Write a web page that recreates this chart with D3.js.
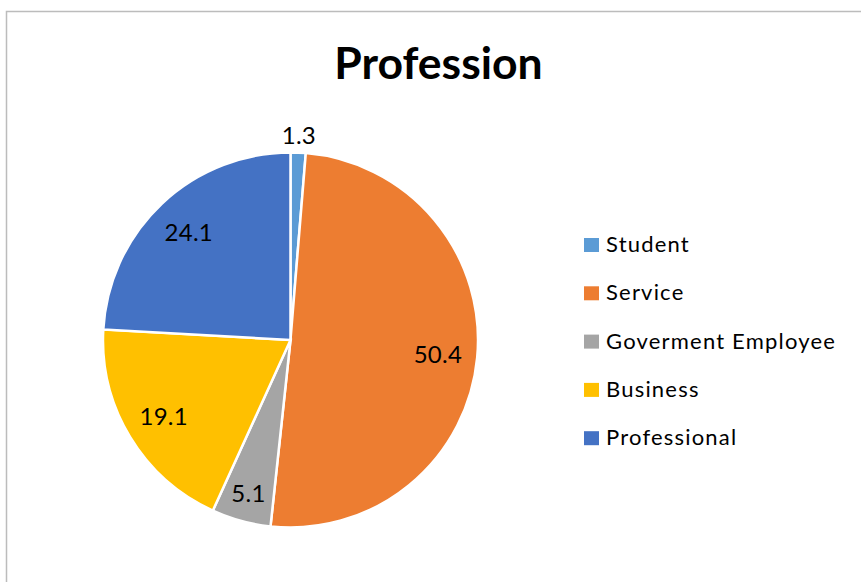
<!DOCTYPE html>
<html>
<head>
<meta charset="utf-8">
<script src="https://cdn.jsdelivr.net/npm/d3@7"></script>
<style>
  html, body { margin: 0; padding: 0; background: #fff; }
  svg { display: block; font-family: Lato, "Open Sans", sans-serif; }
</style>
</head>
<body>
<svg id="chart" width="861" height="582"></svg>
<script>
// Profession breakdown (percent of respondents)
const categories = ["Student", "Service", "Goverment Employee", "Business", "Professional"];
const values = [1.3, 50.4, 5.1, 19.1, 24.1];
const colors = ["#5B9BD5", "#ED7D31", "#A5A5A5", "#FFC000", "#4472C4"];
const title = "Profession";

const svg = d3.select("#chart");
const W = 861, H = 582;

// chart frame
svg.append("rect")
  .attr("x", 6.5).attr("y", 11.5)
  .attr("width", W + 20).attr("height", H + 20)
  .attr("fill", "#fff")
  .attr("stroke", "#bcbcbc").attr("stroke-width", 1.5);

// title
svg.append("text")
  .attr("x", 438.5).attr("y", 79)
  .attr("text-anchor", "middle")
  .attr("font-size", 44.5).attr("font-weight", 700)
  .attr("fill", "#000")
  .text(title);

// pie
const cx = 290.5, cy = 340, R = 187.5;
const data = categories.map((c, i) => ({ name: c, value: values[i], color: colors[i] }));
const pie = d3.pie().value(d => d.value).sort(null);
const arcs = pie(data);
const arc = d3.arc().innerRadius(0).outerRadius(R);

const g = svg.append("g").attr("transform", `translate(${cx},${cy})`);
g.selectAll("path.slice")
  .data(arcs)
  .join("path")
  .attr("class", "slice")
  .attr("d", arc)
  .attr("fill", d => d.data.color)
  .attr("stroke", "#fff")
  .attr("stroke-width", 2.5)
  .attr("stroke-linejoin", "miter");

// value labels: inside the slice, small slices pushed outward
function labelRadius(d) {
  const pct = d.data.value / d3.sum(values);
  if (pct < 0.02) return R * 1.09;
  if (pct < 0.08) return R * 0.85;
  return R * 0.79;
}
g.selectAll("text.val")
  .data(arcs)
  .join("text")
  .attr("class", "val")
  .attr("x", d => Math.sin((d.startAngle + d.endAngle) / 2) * labelRadius(d))
  .attr("y", d => -Math.cos((d.startAngle + d.endAngle) / 2) * labelRadius(d))
  .attr("dy", "0.36em")
  .attr("text-anchor", "middle")
  .attr("font-size", 24)
  .attr("letter-spacing", 0.3)
  .attr("fill", "#000")
  .text(d => d3.format(".1f")(d.data.value));

// legend
const legend = svg.append("g").attr("transform", "translate(584,252)");
const rowH = 48.3;
const item = legend.selectAll("g.item")
  .data(data)
  .join("g")
  .attr("class", "item")
  .attr("transform", (d, i) => `translate(0,${i * rowH})`);
item.append("rect")
  .attr("x", 0).attr("y", -14)
  .attr("width", 15).attr("height", 14)
  .attr("fill", d => d.color);
item.append("text")
  .attr("x", 22).attr("y", 0)
  .attr("font-size", 22)
  .attr("letter-spacing", 1.2)
  .attr("fill", "#000")
  .text(d => d.name);
</script>
</body>
</html>
